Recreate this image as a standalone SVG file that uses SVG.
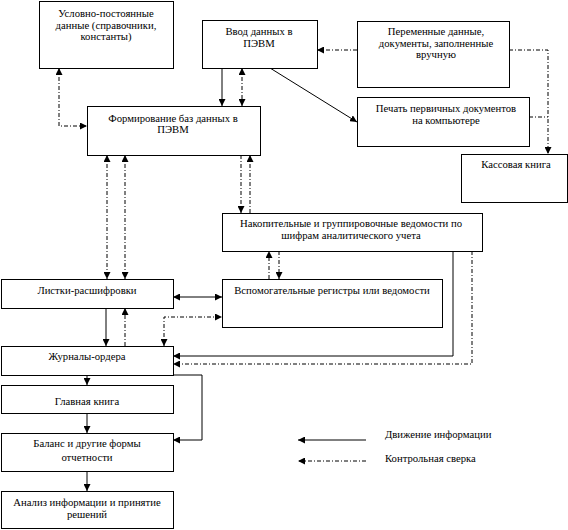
<svg xmlns="http://www.w3.org/2000/svg" width="568" height="530" viewBox="0 0 568 530">
<style>
.box{fill:#fff;stroke:#000;stroke-width:1}
text{font-size:10.7px;fill:#000}
.t{text-anchor:middle}
.s{fill:none;stroke:#000;stroke-width:1}
.d{fill:none;stroke:#000;stroke-width:1;stroke-dasharray:4 2 1 2}
</style>
<defs>
<marker id="a" viewBox="0 0 8 8" refX="8" refY="4" markerWidth="7" markerHeight="7" markerUnits="userSpaceOnUse" orient="auto-start-reverse">
<path d="M0,0 L8,4 L0,8 z" fill="#000"/>
</marker>
</defs>
<rect width="568" height="530" fill="#fff"/>
<g id="connectors">
<path class="d" d="M59,68 V126 H87" marker-start="url(#a)" marker-end="url(#a)"/>
<path class="s" d="M222,68 V106" marker-end="url(#a)"/>
<path class="d" d="M242,68 V106" marker-start="url(#a)" marker-end="url(#a)"/>
<path class="d" d="M357,50 H317" marker-end="url(#a)"/>
<path class="d" d="M509,50 H548 V154" marker-end="url(#a)"/>
<path class="d" d="M529,117 H548"/>
<path class="s" d="M270,68 L357,122" marker-end="url(#a)"/>
<path class="d" d="M107,155 V279" marker-start="url(#a)" marker-end="url(#a)"/>
<path class="d" d="M125,155 V279" marker-start="url(#a)" marker-end="url(#a)"/>
<path class="d" d="M241,155 V213" marker-end="url(#a)"/>
<path class="d" d="M250,213 V155" marker-end="url(#a)"/>
<path class="d" d="M269,279 V251" marker-end="url(#a)"/>
<path class="d" d="M279,251 V279" marker-end="url(#a)"/>
<path class="s" d="M173,297 H222" marker-start="url(#a)" marker-end="url(#a)"/>
<path class="d" d="M164,346 V317 H222" marker-start="url(#a)" marker-end="url(#a)"/>
<path class="s" d="M106,308 V346" marker-end="url(#a)"/>
<path class="d" d="M125,346 V308" marker-end="url(#a)"/>
<path class="s" d="M453,251 V356 H173" marker-end="url(#a)"/>
<path class="d" d="M472,251 V364 H173" marker-end="url(#a)"/>
<path class="s" d="M173,375 H202 V440 H173" marker-end="url(#a)"/>
<path class="s" d="M87,375 V385" marker-end="url(#a)"/>
<path class="s" d="M87,413 V433" marker-end="url(#a)"/>
<path class="s" d="M87,471 V491" marker-end="url(#a)"/>
</g>
<g font-family="Liberation Serif, Times New Roman, serif">
<g id="n1"><rect class="box" x="39.5" y="1.5" width="134" height="67"/>
<text class="t" x="106" y="17">Условно-постоянные</text>
<text class="t" x="106" y="29">данные (справочники,</text>
<text class="t" x="106" y="40">константы)</text></g>
<g id="n2"><rect class="box" x="202.5" y="20.5" width="115" height="48"/>
<text class="t" x="259" y="35">Ввод данных в</text>
<text class="t" x="259" y="47">ПЭВМ</text></g>
<g id="n3"><rect class="box" x="357.5" y="21.5" width="152" height="66"/>
<text class="t" x="436" y="35">Переменные данные,</text>
<text class="t" x="436" y="47">документы, заполненные</text>
<text class="t" x="436" y="58">вручную</text></g>
<g id="n4"><rect class="box" x="87.5" y="106.5" width="173" height="49"/>
<text class="t" x="173" y="122">Формирование баз данных в</text>
<text class="t" x="173" y="133">ПЭВМ</text></g>
<g id="n5"><rect class="box" x="357.5" y="97.5" width="172" height="49"/>
<text class="t" x="446" y="112">Печать первичных документов</text>
<text class="t" x="446" y="124">на компьютере</text></g>
<g id="n6"><rect class="box" x="461.5" y="154.5" width="106" height="48"/>
<text class="t" x="516" y="168">Кассовая книга</text></g>
<g id="n7"><rect class="box" x="222.5" y="213.5" width="260" height="38"/>
<text class="t" x="351" y="227">Накопительные и группировочные ведомости по</text>
<text class="t" x="351" y="239">шифрам аналитического учета</text></g>
<g id="n8"><rect class="box" x="222.5" y="279.5" width="220" height="48"/>
<text class="t" x="332" y="294">Вспомогательные регистры или ведомости</text></g>
<g id="n9"><rect class="box" x="1.5" y="279.5" width="172" height="29"/>
<text class="t" x="87" y="294">Листки-расшифровки</text></g>
<g id="n10"><rect class="box" x="1.5" y="346.5" width="172" height="29"/>
<text class="t" x="87" y="360">Журналы-ордера</text></g>
<g id="n11"><rect class="box" x="1.5" y="385.5" width="172" height="28"/>
<text class="t" x="87" y="405">Главная книга</text></g>
<g id="n12"><rect class="box" x="1.5" y="433.5" width="172" height="38"/>
<text class="t" x="87" y="447">Баланс и другие формы</text>
<text class="t" x="87" y="461">отчетности</text></g>
<g id="n13"><rect class="box" x="1.5" y="491.5" width="172" height="37"/>
<text class="t" x="87" y="505.5">Анализ информации и принятие</text>
<text class="t" x="87" y="517.5">решений</text></g>
<g id="legend">
<path class="s" d="M366,440 H298" marker-end="url(#a)"/>
<path class="d" d="M366,461 H298" marker-end="url(#a)"/>
<text x="385" y="438">Движение информации</text>
<text x="385" y="462">Контрольная сверка</text>
</g>
</g>
</svg>
